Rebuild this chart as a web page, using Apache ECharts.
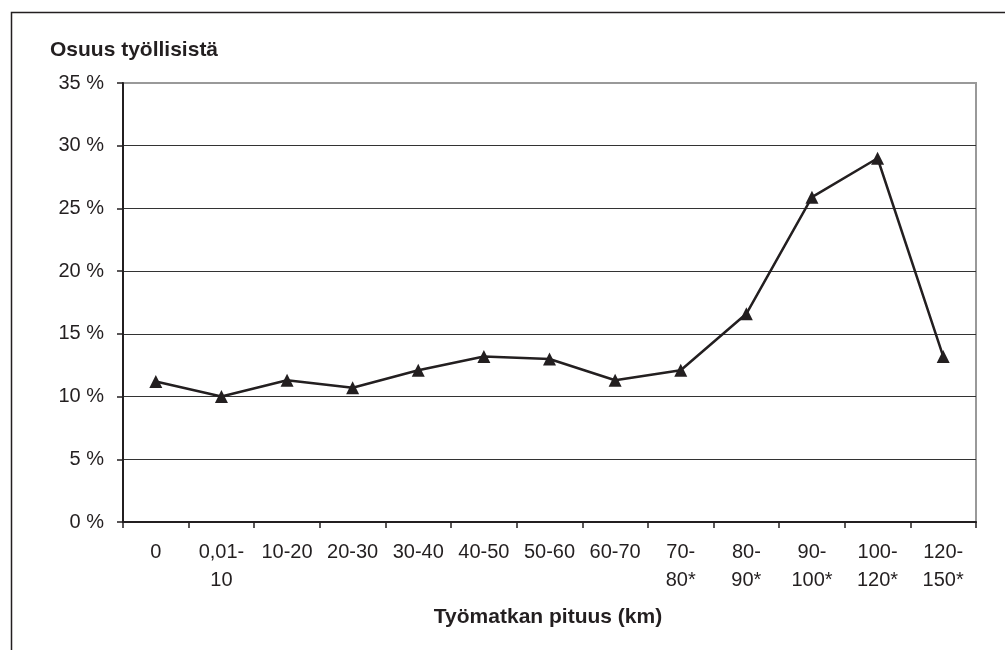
<!DOCTYPE html>
<html><head><meta charset="utf-8">
<script src="https://cdn.jsdelivr.net/npm/echarts@6/dist/echarts.min.js"></script>
<style>html,body{margin:0;padding:0;background:#fff}#c{width:1005px;height:650px}</style>
</head><body><div id="c"></div>
<script>
const categories = ['0','0,01-\n10','10-20','20-30','30-40','40-50','50-60','60-70','70-\n80*','80-\n90*','90-\n100*','100-\n120*','120-\n150*'];
const values = [11.2, 10.0, 11.3, 10.7, 12.1, 13.2, 13.0, 11.3, 12.1, 16.6, 25.9, 29.0, 13.2];
const yTicks = [0, 5, 10, 15, 20, 25, 30, 35];
const yTitle = 'Osuus työllisistä';
const xTitle = 'Työmatkan pituus (km)';

const chart = echarts.init(document.getElementById('c'), null, {renderer:'canvas'});
const font = "'Liberation Sans', Arial, sans-serif";
chart.setOption({
  animation:false,
  backgroundColor:'#fff',
  textStyle:{fontFamily:font},
  graphic:[
    {type:'rect', shape:{x:11.5,y:12.5,width:1100,height:1000}, style:{fill:null, stroke:'#231f20', lineWidth:1.5}, silent:true},
    {type:'text', x:50, y:50, style:{text:yTitle, font:"bold 21px 'Liberation Sans', Arial, sans-serif", fill:'#231f20', textVerticalAlign:'middle', textAlign:'left'}},
    {type:'text', x:548, y:617, style:{text:xTitle, font:"bold 21px 'Liberation Sans', Arial, sans-serif", fill:'#231f20', textAlign:'center', textVerticalAlign:'middle'}}
  ],
  grid:{left:123, top:83, right:29, bottom:128, show:true, borderColor:'#999', borderWidth:2, backgroundColor:'#fff'},
  xAxis:{
    type:'category', data:categories, boundaryGap:true,
    axisLine:{lineStyle:{color:'#231f20', width:2}},
    axisTick:{show:true, length:6, alignWithLabel:false, lineStyle:{color:'#231f20', width:1.5}},
    axisLabel:{color:'#231f20', fontSize:20, margin:16, lineHeight:28, interval:0, fontFamily:font}
  },
  yAxis:{
    type:'value', min:yTicks[0], max:yTicks[yTicks.length-1], interval:5,
    axisLine:{show:true, lineStyle:{color:'#231f20', width:2}},
    axisTick:{show:true, length:6, lineStyle:{color:'#231f20', width:1.5}},
    axisLabel:{color:'#231f20', fontSize:20, margin:19, formatter: v => v + ' %', fontFamily:font},
    splitLine:{show:true, lineStyle:{color:['#231f20','#333','#333','#333','#333','#333','#333','#999'], width:1.2}}
  },
  series:[{
    type:'line', data:values,
    symbol:'triangle', symbolSize:13,
    lineStyle:{color:'#231f20', width:2.5},
    itemStyle:{color:'#231f20', borderWidth:0}
  }]
});
</script></body></html>
